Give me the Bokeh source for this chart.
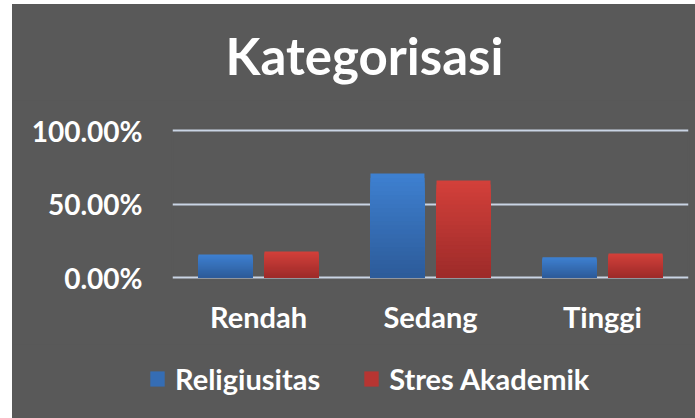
from bokeh.plotting import figure
from bokeh.layouts import column, row
from bokeh.models import FactorRange, Range1d, NumeralTickFormatter, Legend, LegendItem, FixedTicker, Label
from bokeh.transform import dodge
from bokeh.embed import file_html
from bokeh.resources import INLINE

# ---- data ----
categories = ["Rendah", "Sedang", "Tinggi"]
religiusitas = [0.156, 0.707, 0.137]
stres_akademik = [0.177, 0.660, 0.163]
series_names = ["Religiusitas", "Stres Akademik"]
y_ticks = [0.0, 0.5, 1.0]
title_text = "Kategorisasi"

# ---- style ----
BG = "#595959"
FONT = "Lato"
BLUE_TOP, BLUE_BOT = (62, 128, 208), (44, 90, 152)
RED_TOP, RED_BOT = (210, 64, 58), (156, 42, 41)
PAD = 2 / 147  # small y padding so the 0% and 100% gridlines are not clipped
W = 683


def hexc(c):
    return "#%02x%02x%02x" % tuple(int(round(v)) for v in c)


def lerp(a, b, t):
    return tuple(a[i] + (b[i] - a[i]) * t for i in range(3))


def strip(height):
    f = figure(x_range=Range1d(0, W), y_range=Range1d(0, height), width=W, height=height,
               output_backend="svg", toolbar_location=None, title=None,
               min_border_left=0, min_border_right=0, min_border_top=0, min_border_bottom=0)
    f.margin = (0, 0, 0, 0)
    f.background_fill_color = BG
    f.border_fill_color = BG
    f.outline_line_color = None
    f.axis.visible = False
    f.grid.visible = False
    return f


# ---- title strip ----
TH = 96
tf = strip(TH)
tf.add_layout(Label(x=352, y=45, text=title_text, text_align="center",
                    text_baseline="alphabetic", text_color="white", text_font=FONT,
                    text_font_size="51px", text_font_style="bold"))

# ---- main chart ----
p = figure(x_range=FactorRange(*categories, range_padding=0), y_range=Range1d(-PAD, 1 + PAD),
           width=W, height=244, output_backend="svg", toolbar_location=None,
           min_border_left=160, min_border_right=7, min_border_top=28, min_border_bottom=65)
p.margin = (0, 0, 0, 0)
p.background_fill_color = BG
p.border_fill_color = BG
p.outline_line_color = BG
p.outline_line_width = 2

# gradient bars: full bar in light colour, then successively shorter darker overlays
N = 24
offset = 0.192
width = 0.314
for vals, top_c, bot_c, off in [(religiusitas, BLUE_TOP, BLUE_BOT, -offset),
                                 (stres_akademik, RED_TOP, RED_BOT, offset)]:
    for i in range(N):
        frac = (N - i) / N
        col = hexc(lerp(bot_c, top_c, frac))
        p.vbar(x=dodge("x", off, range=p.x_range), top="top", width=width,
               source=dict(x=categories, top=[v * frac for v in vals]),
               fill_color=col, line_color=None)

p.xaxis.axis_line_color = None
p.xaxis.major_tick_line_color = None
p.xaxis.minor_tick_line_color = None
p.xaxis.major_tick_out = 0
p.xaxis.major_tick_in = 0
p.xaxis.major_label_text_color = "white"
p.xaxis.major_label_text_font = FONT
p.xaxis.major_label_text_font_size = "29px"
p.xaxis.major_label_text_font_style = "bold"
p.xaxis.major_label_standoff = 19

p.yaxis.ticker = FixedTicker(ticks=y_ticks)
p.yaxis.formatter = NumeralTickFormatter(format="0.00%")
p.yaxis.axis_line_color = None
p.yaxis.major_tick_line_color = None
p.yaxis.minor_tick_line_color = None
p.yaxis.major_tick_out = 0
p.yaxis.major_tick_in = 0
p.yaxis.major_label_text_color = "white"
p.yaxis.major_label_text_font = FONT
p.yaxis.major_label_text_font_size = "28px"
p.yaxis.major_label_text_font_style = "bold"
p.yaxis.major_label_standoff = 30

p.xgrid.grid_line_color = None
p.ygrid.ticker = FixedTicker(ticks=y_ticks)
p.ygrid.grid_line_color = "#C9D4E4"
p.ygrid.grid_line_width = 2

# ---- legend strip ----
LH = 74
lg = strip(LH)
r_blue = lg.rect(x=[-100], y=[-100], width=1, height=1,
                 fill_color=hexc(lerp(BLUE_BOT, BLUE_TOP, 0.5)), line_color=None)
r_red = lg.rect(x=[-100], y=[-100], width=1, height=1,
                fill_color=hexc(lerp(RED_BOT, RED_TOP, 0.5)), line_color=None)
legend = Legend(items=[LegendItem(label=series_names[0], renderers=[r_blue]),
                       LegendItem(label=series_names[1], renderers=[r_red])],
                location=(136, 22), orientation="horizontal",
                glyph_width=18, glyph_height=19, label_standoff=9, spacing=42,
                padding=0, margin=0, border_line_color=None, background_fill_alpha=0,
                label_text_color="white", label_text_font=FONT, label_text_font_size="29px",
                label_text_font_style="bold")
lg.add_layout(legend, "center")

layout = column(row(tf), p, row(lg), spacing=0, margin=(4, 0, 0, 12),
                styles={"background-color": BG})
open("out.html", "w").write(file_html(layout, INLINE))
